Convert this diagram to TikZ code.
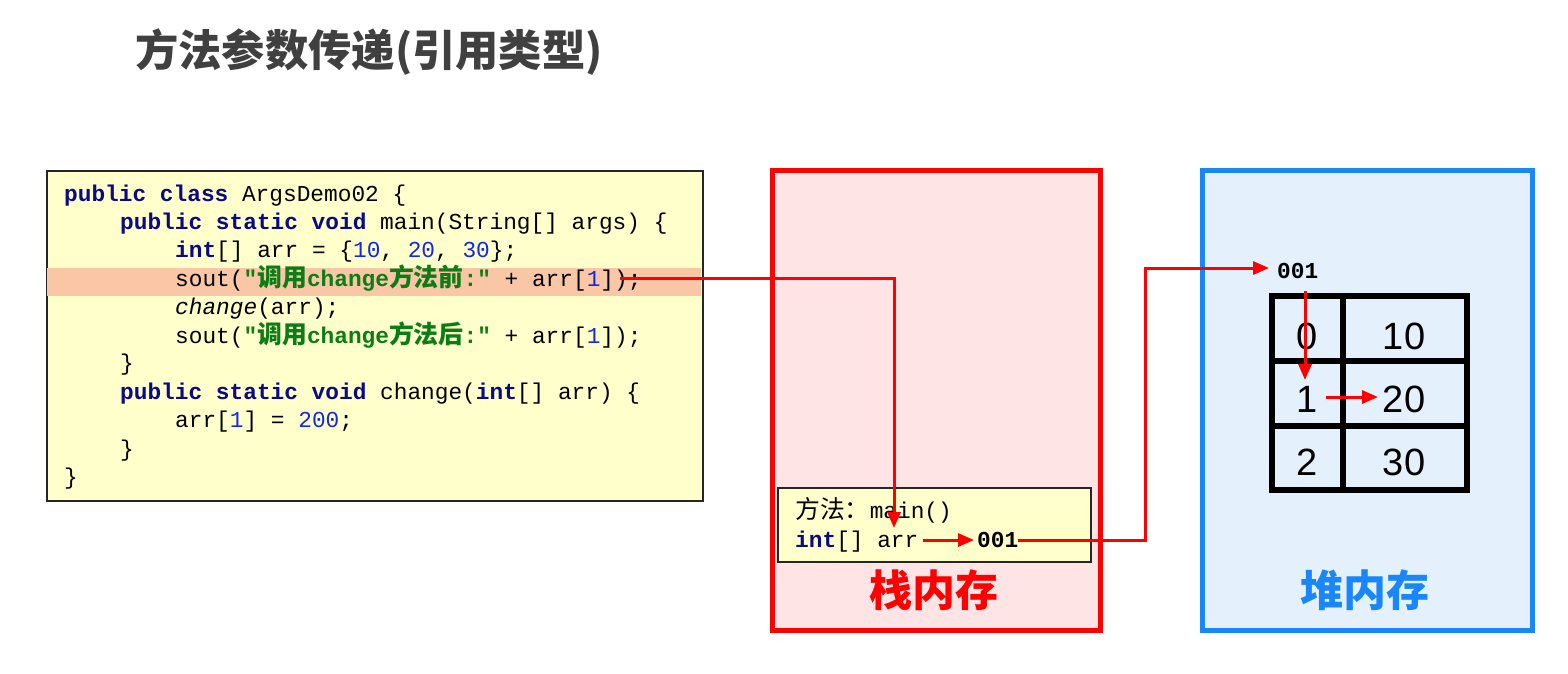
\documentclass[tikz,border=0pt]{standalone}
\usepackage{fontspec}
\setmainfont{Liberation Sans}
\setmonofont{Liberation Mono}
\newfontfamily\cjk{Noto Sans CJK SC}
\newfontfamily\cjkc{Noto Sans CJK SC}[Scale=1.09]
\usetikzlibrary{arrows.meta}
\definecolor{kwc}{RGB}{10,10,135}
\definecolor{numc}{RGB}{20,40,230}
\definecolor{strc}{RGB}{10,125,20}
\definecolor{codebg}{RGB}{255,255,204}
\definecolor{hl}{RGB}{249,198,166}
\definecolor{stackbg}{RGB}{255,228,230}
\definecolor{heapbg}{RGB}{228,240,252}
\definecolor{heapc}{RGB}{25,135,250}
\definecolor{titlec}{RGB}{64,64,64}
\newcommand{\kw}[1]{{\color{kwc}\bfseries #1}}
\newcommand{\nm}[1]{{\color{numc}#1}}
\newcommand{\st}[1]{{\color{strc}\bfseries #1}}
\tikzset{
  codeline/.style={anchor=base west, inner sep=0pt, font=\ttfamily\fontsize{22.8}{26}\selectfont},
  redarrow/.style={draw=red, line width=3pt, -{Triangle[length=16pt,width=13pt]}},
  cellnum/.style={font=\fontsize{38}{40}\selectfont, inner sep=0pt},
  tline/.style={line width=6pt, line cap=round},
  memlabel/.style={font=\cjk\bfseries\fontsize{43}{46}\selectfont, inner sep=0pt}
}
\begin{document}
\begin{tikzpicture}[x=1pt,y=-1pt]
\useasboundingbox[fill=white] (0,0) rectangle (1568,673);
% title
\node[anchor=west, inner sep=0pt, text=titlec, font=\cjk\bfseries\fontsize{43.3}{48}\selectfont] (title) at (135,52) {方法参数传递(引用类型)};
% code box
\node[draw=black!85, line width=2pt, fill=codebg, minimum width=656pt, minimum height=330pt, anchor=north west, inner sep=0pt] (code) at (46,170) {};
\fill[hl] (47,268) rectangle (701,296);
\node[codeline] (l1) at (64,201) {\kw{public class} ArgsDemo02 \{};
\node[codeline] (l2) at (120,229) {\kw{public static void} main(String[] args) \{};
\node[codeline] (l3) at (175,257) {\kw{int}[] arr = \{\nm{10}, \nm{20}, \nm{30}\};};
\node[codeline] (l4) at (175,286) {sout(\st{"{\cjkc 调用}change{\cjkc 方法前}:"} + arr[\nm{1}]);};
\node[codeline] (l5) at (175,314) {\textit{change}(arr);};
\node[codeline] (l6) at (175,343) {sout(\st{"{\cjkc 调用}change{\cjkc 方法后}:"} + arr[\nm{1}]);};
\node[codeline] (l7) at (120,370) {\}};
\node[codeline] (l8) at (120,399) {\kw{public static void} change(\kw{int}[] arr) \{};
\node[codeline] (l9) at (175,427) {arr[\nm{1}] = \nm{200};};
\node[codeline] (l10) at (120,456) {\}};
\node[codeline] (l11) at (64,484) {\}};
% stack
\node[draw=red, line width=5pt, fill=stackbg, minimum width=328pt, minimum height=460pt, anchor=north west, inner sep=0pt] (stack) at (770,168) {};
\node[draw=black!85, line width=1.5pt, fill=codebg, minimum width=313pt, minimum height=74pt, anchor=north west, inner sep=0pt] (frame) at (777,487) {};
\node[codeline] (fm) at (795,518) {{\cjkc 方法：}main()};
\node[codeline] (farr) at (795,547) {\kw{int}[] arr};
\node[codeline, font=\ttfamily\bfseries\fontsize{22.8}{26}\selectfont] (f001) at (977,547) {001};
\node[memlabel, text=red] (stacklbl) at (934,590) {栈内存};
% heap
\node[draw=heapc, line width=5pt, fill=heapbg, minimum width=330pt, minimum height=460pt, anchor=north west, inner sep=0pt] (heap) at (1200,168) {};
\node[memlabel, text=heapc] (heaplbl) at (1365,590) {堆内存};
\node[codeline, font=\ttfamily\bfseries\fontsize{22.8}{26}\selectfont] (h001) at (1277,278) {001};
% table
\draw[tline] (1272,296) rectangle (1467,490);
\draw[tline] (1343,296) -- (1343,490);
\draw[tline] (1272,361) -- (1467,361);
\draw[tline] (1272,426) -- (1467,426);
\node[cellnum] (i0) at (1307,336) {0};
\node[cellnum] (v0) at (1404,336) {10};
\node[cellnum] (i1) at (1307,399) {1};
\node[cellnum] (v1) at (1404,399) {20};
\node[cellnum] (i2) at (1307,462) {2};
\node[cellnum] (v2) at (1404,462) {30};
% arrows
\coordinate (a1s) at (620,278);
\coordinate (a1e) at (894,528);
\draw[redarrow] (a1s) -| (a1e);
\coordinate (a2s) at (923,540);
\coordinate (a2e) at (974,540);
\draw[redarrow] (a2s) -- (a2e);
\coordinate (a3s) at (1018,540);
\coordinate (a3m) at (1145,540);
\coordinate (a3e) at (1269,268);
\draw[redarrow] (a3s) -- (a3m) |- (a3e);
\coordinate (a4s) at (1305,291);
\coordinate (a4e) at (1305,380);
\draw[redarrow] (a4s) -- (a4e);
\coordinate (a5s) at (1326,397);
\coordinate (a5e) at (1378,397);
\draw[redarrow] (a5s) -- (a5e);
\end{tikzpicture}
\end{document}
